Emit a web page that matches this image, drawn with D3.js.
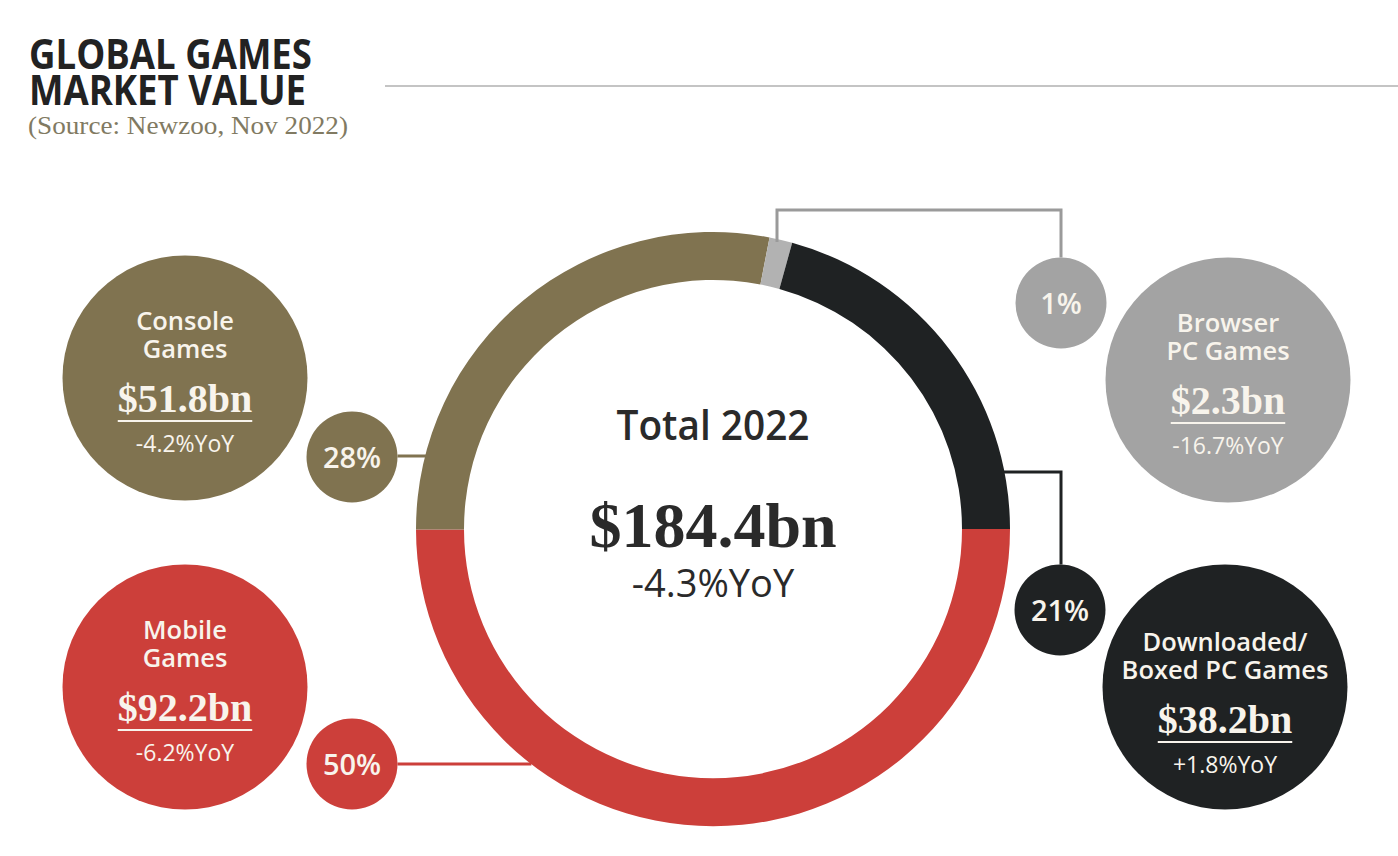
<!DOCTYPE html>
<html>
<head>
<meta charset="utf-8">
<script src="https://cdn.jsdelivr.net/npm/d3@7"></script>
<style>
  body { margin: 0; background: #fff; }
  svg { display: block; }
</style>
</head>
<body>
<svg width="1398" height="856"></svg>
<script>
// data
var segments = ["Mobile Games", "Console Games", "Browser PC Games", "Downloaded/Boxed PC Games"];
var labelLines = [["Mobile", "Games"], ["Console", "Games"], ["Browser", "PC Games"], ["Downloaded/", "Boxed PC Games"]];
var values = [92.2, 51.8, 2.3, 38.2];
var shares = [50, 28, 1, 21];
var yoy = ["-6.2%", "-4.2%", "-16.7%", "+1.8%"];
var total = 184.4, totalYoy = "-4.3%", year = 2022;

var colors = ["#cc3f3a", "#807350", "#b2b2b2", "#1f2223"];
var bubbleColors = ["#cc3f3a", "#807350", "#a3a3a3", "#1f2223"];
var lineColors = ["#cc3f3a", "#807350", "#9a9a9a", "#1f2223"];

var svg = d3.select("svg"),
    sans = "'Open Sans', 'DejaVu Sans', sans-serif",
    serif = "'Liberation Serif', 'DejaVu Serif', serif",
    textWhite = "#f8f4ec";

// header
svg.append("text").attr("x", 29).attr("y", 69)
    .attr("textLength", 283).attr("lengthAdjust", "spacingAndGlyphs")
    .style("font-family", sans).style("font-weight", 700).style("font-size", "42px")
    .style("fill", "#222").text("GLOBAL GAMES");
svg.append("text").attr("x", 29).attr("y", 105)
    .attr("textLength", 277).attr("lengthAdjust", "spacingAndGlyphs")
    .style("font-family", sans).style("font-weight", 700).style("font-size", "42px")
    .style("fill", "#222").text("MARKET VALUE");
svg.append("text").attr("x", 28).attr("y", 134)
    .attr("textLength", 320).attr("lengthAdjust", "spacingAndGlyphs")
    .style("font-family", serif).style("font-size", "25px")
    .style("fill", "#817a62").text("(Source: Newzoo, Nov 2022)");
svg.append("line").attr("x1", 385).attr("x2", 1398).attr("y1", 86).attr("y2", 86)
    .style("stroke", "#c4c4c4").style("stroke-width", 2);

// donut
var cx = 713, cy = 529, outerR = 297, innerR = 249;
var pie = d3.pie().sort(null).value(function(d) { return d; })
    .startAngle(Math.PI / 2).endAngle(Math.PI / 2 + 2 * Math.PI);
var arc = d3.arc().innerRadius(innerR).outerRadius(outerR);
var arcs = pie(values);

var g = svg.append("g").attr("transform", "translate(" + cx + "," + cy + ")");
g.selectAll(".seg")
  .data(arcs)
  .enter().append("path")
    .attr("class", "seg")
    .attr("d", arc)
    .style("fill", function(d, i) { return colors[i]; });

// helper: x on outer ring edge for a given y (side = -1 left, 1 right)
function ringX(y, side) { return cx + side * Math.sqrt(outerR * outerR - (y - cy) * (y - cy)); }
function ringY(x) { return cy - Math.sqrt(outerR * outerR - (x - cx) * (x - cx)); }

// bubble layout (positions only)
var big = [{x: 185, y: 687}, {x: 185, y: 378}, {x: 1228, y: 380}, {x: 1225, y: 687}];
var bigR = 122.5;
var textShift = [0, 0, 0, 12];
var small = [{x: 352, y: 764}, {x: 352, y: 457}, {x: 1061, y: 303}, {x: 1060, y: 610}];
var smallR = 45.5;

// connectors
var connectors = [
  [[small[0].x + smallR, 764], [ringX(764, -1), 764]],
  [[small[1].x + smallR, 456], [ringX(456, -1) + 4, 456]],
  [[777, ringY(777) + 3], [777, 210], [1061, 210], [1061, small[2].y - smallR]],
  [[ringX(472, 1) - 3, 472], [1061, 472], [1061, small[3].y - smallR]]
];
svg.selectAll(".conn")
  .data(connectors)
  .enter().append("path")
    .attr("class", "conn")
    .attr("d", d3.line())
    .style("fill", "none")
    .style("stroke", function(d, i) { return lineColors[i]; })
    .style("stroke-width", 3);

// small share bubbles
var sg = svg.selectAll(".share")
  .data(shares)
  .enter().append("g")
    .attr("class", "share")
    .attr("transform", function(d, i) { return "translate(" + small[i].x + "," + small[i].y + ")"; });
sg.append("circle").attr("r", smallR)
    .style("fill", function(d, i) { return bubbleColors[i]; });
sg.append("text").attr("y", 11).attr("text-anchor", "middle")
    .style("font-family", sans).style("font-weight", 600).style("font-size", "29px")
    .style("fill", textWhite)
    .text(function(d) { return d + "%"; });

// big category bubbles
var bg = svg.selectAll(".cat")
  .data(segments)
  .enter().append("g")
    .attr("class", "cat")
    .attr("transform", function(d, i) { return "translate(" + big[i].x + "," + big[i].y + ")"; });
bg.append("circle").attr("r", bigR)
    .style("fill", function(d, i) { return bubbleColors[i]; });
bg.each(function(d, i) {
  var el = d3.select(this), s = textShift[i];
  labelLines[i].forEach(function(t, k) {
    el.append("text").attr("y", -48 + s + k * 28).attr("text-anchor", "middle")
      .style("font-family", sans).style("font-weight", 600).style("font-size", "25.5px")
      .style("fill", textWhite).text(t);
  });
  var v = el.append("text").attr("y", 34 + s).attr("text-anchor", "middle")
      .style("font-family", serif).style("font-weight", 700).style("font-size", "40px")
      .style("fill", textWhite).text("$" + values[i] + "bn");
  var w = v.node().getComputedTextLength();
  el.append("line").attr("x1", -w / 2).attr("x2", w / 2)
      .attr("y1", 43 + s).attr("y2", 43 + s)
      .style("stroke", textWhite).style("stroke-width", 2);
  el.append("text").attr("y", 74 + s).attr("text-anchor", "middle")
      .style("font-family", sans).style("font-size", "23px")
      .style("fill", textWhite).text(yoy[i] + "YoY");
});

// centre totals
svg.append("text").attr("x", cx).attr("y", 440).attr("text-anchor", "middle")
    .attr("textLength", 193).attr("lengthAdjust", "spacingAndGlyphs")
    .style("font-family", sans).style("font-weight", 600).style("font-size", "42px")
    .style("fill", "#2a2a2a").text("Total " + year);
svg.append("text").attr("x", cx).attr("y", 547).attr("text-anchor", "middle")
    .style("font-family", serif).style("font-weight", 700).style("font-size", "64px")
    .style("fill", "#2a2a2a").text("$" + total + "bn");
svg.append("text").attr("x", cx).attr("y", 597).attr("text-anchor", "middle")
    .style("font-family", sans).style("font-size", "38px")
    .style("fill", "#2a2a2a").text(totalYoy + "YoY");
</script>
</body>
</html>
